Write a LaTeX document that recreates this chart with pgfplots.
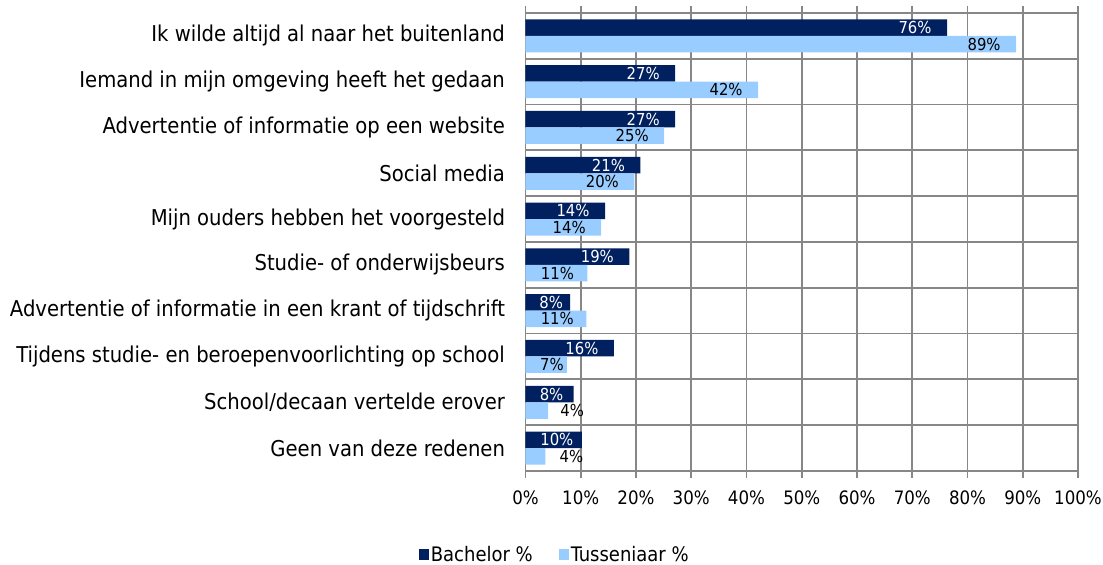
\documentclass[border=0pt]{standalone}
\usepackage{fontspec}
\setmainfont{DejaVu Sans Condensed}
\usepackage{pgfplots}
\pgfplotsset{compat=1.18}
\usepackage{pgfplotstable}
\definecolor{bachc}{HTML}{002060}
\definecolor{tussc}{HTML}{99CCFF}
\definecolor{gridg}{HTML}{878787}

\pgfplotstableread{
y val lab dx
0 76.3 76 -32
1 27.1 27 -32
2 27.1 27 -32
3 20.8 21 -32
4 14.4 14 -32
5 18.8 19 -32
6 8.1 8 -19
7 16.0 16 -32
8 8.7 8 -22
9 10.2 10 -25
}\tabB

\pgfplotstableread{
y val lab dx
0 88.8 89 -32
1 42.1 42 -32
2 25.1 25 -32
3 19.7 20 -32
4 13.7 14 -32
5 11.2 11 -30
6 11.0 11 -29
7 7.5 7 -15
8 4.1 4 24
9 3.6 4 26
}\tabT

\begin{document}
\begin{tikzpicture}
\begin{axis}[
  scale only axis, width=552.5pt, height=458pt,
  xbar, bar width=16.5pt,
  xmin=0, xmax=100, ymin=-0.5, ymax=9.5, y dir=reverse,
  xtick={0,10,...,100},
  /pgf/number format/assume math mode=true,
  xticklabel={\pgfmathprintnumber{\tick}\%},
  ytick={0,...,9},
  yticklabels={Ik wilde altijd al naar het buitenland,
    Iemand in mijn omgeving heeft het gedaan,
    Advertentie of informatie op een website,
    Social media,
    Mijn ouders hebben het voorgesteld,
    Studie- of onderwijsbeurs,
    Advertentie of informatie in een krant of tijdschrift,
    Tijdens studie- en beroepenvoorlichting op school,
    School/decaan vertelde erover,
    Geen van deze redenen},
  minor ytick={0.5,1.5,...,8.5},
  xmajorgrids, yminorgrids,
  grid style={gridg, line width=1.8pt},
  axis line style={gridg, line width=1.8pt},
  tick align=outside,
  x tick style={gridg, line width=1.8pt},
  major tick length=7pt,
  y tick style={draw=none},
  minor tick length=0pt,
  yticklabel style={font=\fontsize{21.8}{24}\selectfont, xshift=-10pt},
  xticklabel style={font=\fontsize{18.5}{22}\selectfont, yshift=-9pt},
  nodes near coords={\pgfmathprintnumber{\pgfplotspointmeta}\%},
  point meta=explicit,
  visualization depends on={\thisrow{dx}\as\dx},
  every node near coord/.append style={anchor=center, xshift=\dx pt, font=\fontsize{16.5}{19}\selectfont, inner sep=0pt},
  legend style={at={(rel axis cs:0.053,-0.183)}, anchor=center, legend columns=2, draw=none,
    font=\fontsize{20}{23}\selectfont,
    /tikz/every even column/.append style={column sep=24pt}},
  legend image code/.code={\fill[#1] (0pt,-5.5pt) rectangle (10pt,5.5pt);},
  clip=false,
]
\addplot[fill=bachc, draw=none, bar shift=8.25pt,
  every node near coord/.append style={text=white}]
  table[x=val, y=y, meta=lab] {\tabB};
\addlegendentry{Bachelor \%}
\addplot[fill=tussc, draw=none, bar shift=-8.25pt,
  every node near coord/.append style={text=black}]
  table[x=val, y=y, meta=lab] {\tabT};
\addlegendentry{Tusseniaar \%}
\end{axis}
\pgfresetboundingbox
\path ([shift={(-525.5pt,-94pt)}]current axis.south west) rectangle ([shift={(25pt,13pt)}]current axis.north east);
\end{tikzpicture}
\end{document}
